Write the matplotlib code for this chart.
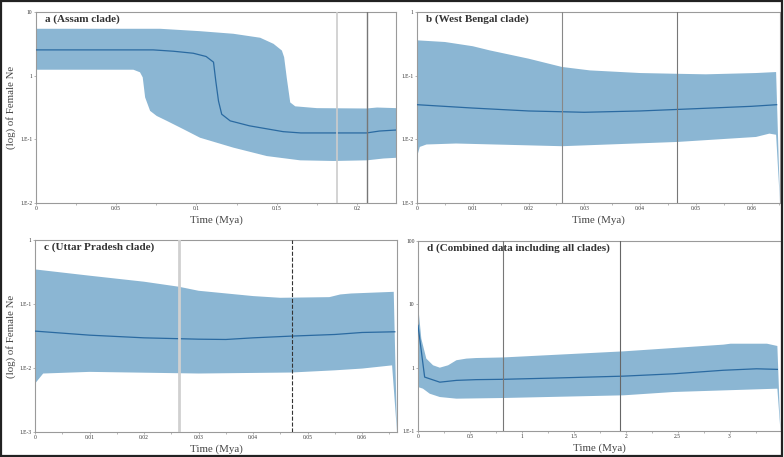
import numpy as np
import matplotlib
matplotlib.use("Agg")
import matplotlib.pyplot as plt
from matplotlib.ticker import FixedLocator, MultipleLocator, NullLocator
from matplotlib.patches import Rectangle

plt.rcParams['font.family'] = ['Liberation Serif', 'DejaVu Serif']

FILL = '#8bb6d3'
LINE = '#2a6aa1'

# --- panel a: Assam clade ---
t_mean_a = [0, 0.073, 0.0856, 0.098, 0.106, 0.1106, 0.112, 0.1137, 0.1157, 0.121, 0.133, 0.154, 0.165, 0.206, 0.214, 0.2244]
mean_a = [2.54, 2.54, 2.42, 2.25, 2.0, 1.63, 0.83, 0.40, 0.248, 0.195, 0.163, 0.132, 0.126, 0.126, 0.135, 0.14]
t_up_a = [0, 0.0773, 0.102, 0.123, 0.1397, 0.148, 0.1532, 0.1546, 0.1563, 0.1584, 0.1615, 0.175, 0.206, 0.2125, 0.2244]
up_a = [5.45, 5.45, 5.0, 4.55, 3.94, 3.16, 2.48, 1.95, 0.9, 0.38, 0.33, 0.309, 0.305, 0.316, 0.309]
t_lo_a = [0, 0.0607, 0.0648, 0.0665, 0.068, 0.0711, 0.0752, 0.0815, 0.0919, 0.1022, 0.123, 0.1438, 0.1646, 0.1854, 0.2062, 0.2165, 0.2244]
lo_a = [1.24, 1.24, 1.13, 0.94, 0.455, 0.28, 0.233, 0.195, 0.144, 0.106, 0.074, 0.0546, 0.0468, 0.0457, 0.0468, 0.05, 0.0513]

# --- panel b: West Bengal clade ---
t_mean_b = [0, 0.01, 0.02, 0.03, 0.04, 0.05, 0.06, 0.0645]
mean_b = [0.035, 0.031, 0.0279, 0.0266, 0.0279, 0.0303, 0.033, 0.035]
t_up_b = [0, 0.005, 0.01, 0.013, 0.02, 0.026, 0.031, 0.04, 0.0467, 0.0518, 0.0608, 0.0644]
up_b = [0.359, 0.338, 0.29, 0.25, 0.185, 0.137, 0.121, 0.110, 0.107, 0.105, 0.110, 0.114]
t_lo_b = [0, 0.0005, 0.0017, 0.007, 0.026, 0.0467, 0.0608, 0.0632, 0.0644, 0.0651]
lo_b = [0.0053, 0.0076, 0.0083, 0.0086, 0.0078, 0.0091, 0.0109, 0.0123, 0.0118, 0.001]

# --- panel c: Uttar Pradesh clade ---
t_mean_c = [0, 0.01, 0.02, 0.03, 0.035, 0.04, 0.047, 0.055, 0.06, 0.066]
mean_c = [0.0377, 0.0326, 0.0296, 0.0282, 0.0279, 0.0296, 0.0315, 0.0334, 0.0359, 0.0368]
t_up_c = [0, 0.01, 0.02, 0.0264, 0.03, 0.04, 0.045, 0.054, 0.056, 0.058, 0.0658]
up_c = [0.347, 0.277, 0.223, 0.186, 0.161, 0.133, 0.125, 0.128, 0.141, 0.146, 0.155]
t_lo_c = [0, 0.0015, 0.01, 0.03, 0.047, 0.055, 0.06, 0.0655, 0.0664]
lo_c = [0.0057, 0.0082, 0.0087, 0.0082, 0.0085, 0.0092, 0.0098, 0.011, 0.001]

# --- panel d: combined data ---
t_mean_d = [0, 0.064, 0.21, 0.37, 0.56, 0.82, 1.33, 1.98, 2.46, 2.94, 3.26, 3.46]
mean_d = [4.66, 0.71, 0.59, 0.63, 0.647, 0.655, 0.687, 0.735, 0.80, 0.91, 0.96, 0.94]
t_up_d = [0, 0.032, 0.08, 0.145, 0.21, 0.29, 0.37, 0.466, 0.56, 0.82, 1.98, 2.94, 3.01, 3.36, 3.46]
up_d = [10, 2.87, 1.39, 1.09, 1.0, 1.09, 1.31, 1.39, 1.42, 1.45, 1.81, 2.31, 2.39, 2.39, 2.2]
t_lo_d = [0, 0.048, 0.113, 0.21, 0.37, 0.82, 1.98, 2.46, 3.46, 3.49]
lo_d = [0.495, 0.466, 0.388, 0.344, 0.324, 0.332, 0.366, 0.413, 0.466, 0.1]

panels = [
    dict(title='a (Assam clade)', t_mean=t_mean_a, mean=mean_a, t_up=t_up_a, up=up_a, t_lo=t_lo_a, lo=lo_a,
         xlim=(0, 0.2243), ylim=(0.01, 10), xmajor=0.05, xminor=0.025,
         xticklabels=['0', '0.05', '0.1', '0.15', '0.2'],
         yticks=[0.01, 0.1, 1, 10], yticklabels=['1.E-2', '1.E-1', '1', '10'],
         vlines=[(0.1875, '#cccccc', 1.2, '-'), (0.2063, '#777777', 1.0, '-')],
         rect=[36 / 784, 1 - 203 / 457, 360 / 784, 191 / 457], ylabel=True),
    dict(title='b (West Bengal clade)', t_mean=t_mean_b, mean=mean_b, t_up=t_up_b, up=up_b, t_lo=t_lo_b, lo=lo_b,
         xlim=(0, 0.0651), ylim=(0.001, 1), xmajor=0.01, xminor=0.005,
         xticklabels=['0', '0.01', '0.02', '0.03', '0.04', '0.05', '0.06'],
         yticks=[0.001, 0.01, 0.1, 1], yticklabels=['1.E-3', '1.E-2', '1.E-1', '1'],
         vlines=[(0.026, '#888888', 0.8, '-'), (0.0467, '#777777', 0.8, '-')],
         rect=[417 / 784, 1 - 203 / 457, 363 / 784, 191 / 457], ylabel=False),
    dict(title='c (Uttar Pradesh clade)', t_mean=t_mean_c, mean=mean_c, t_up=t_up_c, up=up_c, t_lo=t_lo_c, lo=lo_c,
         xlim=(0, 0.0664), ylim=(0.001, 1), xmajor=0.01, xminor=0.005,
         xticklabels=['0', '0.01', '0.02', '0.03', '0.04', '0.05', '0.06'],
         yticks=[0.001, 0.01, 0.1, 1], yticklabels=['1.E-3', '1.E-2', '1.E-1', '1'],
         vlines=[(0.0264, '#d0d0d0', 2.0, '-'), (0.0472, '#333333', 0.8, '--')],
         rect=[35 / 784, 1 - 432 / 457, 362 / 784, 192 / 457], ylabel=True),
    dict(title='d (Combined data including all clades)', t_mean=t_mean_d, mean=mean_d, t_up=t_up_d, up=up_d, t_lo=t_lo_d, lo=lo_d,
         xlim=(0, 3.495), ylim=(0.1, 100), xmajor=0.5, xminor=0.25,
         xticklabels=['0', '0.5', '1', '1.5', '2', '2.5', '3'],
         yticks=[0.1, 1, 10, 100], yticklabels=['1.E-1', '1', '10', '100'],
         vlines=[(0.82, '#777777', 0.8, '-'), (1.945, '#666666', 0.8, '-')],
         rect=[418 / 784, 1 - 431 / 457, 363 / 784, 190 / 457], ylabel=False),
]

fig = plt.figure(figsize=(7.84, 4.57), dpi=100)

for p in panels:
    ax = fig.add_axes(p['rect'])
    ax.set_yscale('log')
    poly_x = np.r_[p['t_up'], p['t_lo'][::-1]]
    poly_y = np.r_[p['up'], p['lo'][::-1]]
    ax.fill(poly_x, poly_y, color=FILL, lw=0, zorder=1)
    ax.plot(p['t_mean'], p['mean'], color=LINE, lw=0.9, zorder=3)
    for x, c, lw, ls in p['vlines']:
        ax.axvline(x, color=c, lw=lw, ls=ls, zorder=4)
    ax.set_xlim(*p['xlim'])
    ax.set_ylim(*p['ylim'])

    nmaj = len(p['xticklabels'])
    ax.xaxis.set_major_locator(FixedLocator([i * p['xmajor'] for i in range(nmaj)]))
    ax.set_xticklabels(p['xticklabels'])
    ax.xaxis.set_minor_locator(MultipleLocator(p['xminor']))
    ax.yaxis.set_major_locator(FixedLocator(p['yticks']))
    ax.yaxis.set_minor_locator(NullLocator())
    ax.set_yticklabels(p['yticklabels'])
    ax.tick_params(which='both', labelsize=4, length=1.5, width=0.5, color='#999999',
                   pad=1, labelcolor='#333333')
    ax.tick_params(which='minor', length=1.2)
    for s in ax.spines.values():
        s.set_color('#9a9a9a')
        s.set_linewidth(0.8)

    w_px = p['rect'][2] * 784
    h_px = p['rect'][3] * 457
    ax.set_xlabel('Time (Mya)', fontsize=7.8, color='#444444')
    ax.xaxis.set_label_coords(0.5, -12 / h_px, transform=ax.transAxes)
    ax.xaxis.label.set_va('top')
    if p['ylabel']:
        ax.set_ylabel('(log) of Female Ne', fontsize=7.8, color='#444444')
        ax.yaxis.set_label_coords(-(p['rect'][0] * 784 - 11) / w_px, 0.5)
        ax.yaxis.label.set_va('center')
    ax.text(0.025, 0.985, p['title'], transform=ax.transAxes, ha='left', va='top',
            fontsize=8, fontweight='bold', color='#333333', zorder=5)

fig.patches.append(Rectangle((0.001, 0.002), 0.997, 0.995, transform=fig.transFigure,
                             fill=False, edgecolor='#222222', linewidth=1.6))

fig.savefig('out.png', dpi=100)
